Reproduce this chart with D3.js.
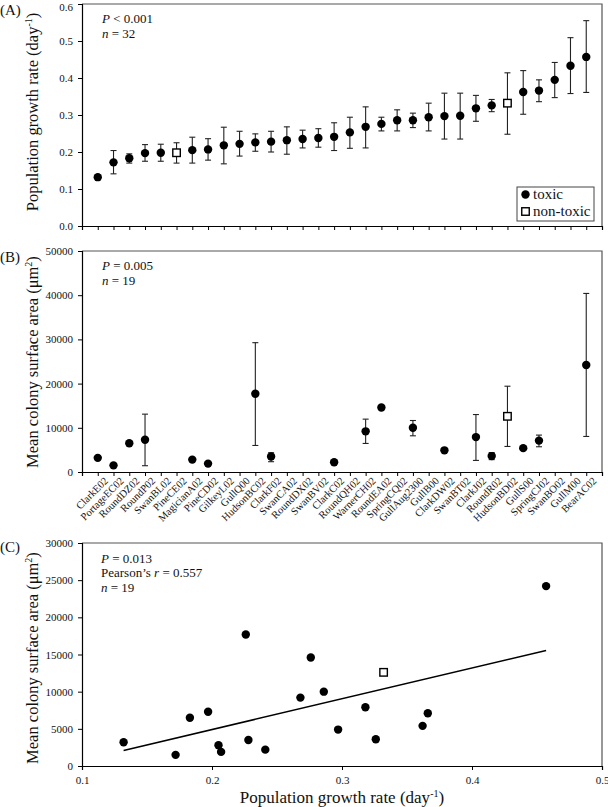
<!DOCTYPE html>
<html><head><meta charset="utf-8">
<script src="https://cdn.jsdelivr.net/npm/d3@7"></script>
<style>
body{margin:0;background:#fff;}
svg{display:block;font-family:"Liberation Serif","Times New Roman",serif;}
</style>
</head><body>
<svg id="chart" width="608" height="807"></svg>
<script>
// ---------- data ----------
const categories = ["ClarkE02","PortageEC02","RoundDZ02","RoundP02","SwanBL02","PineCE02","MagicianA02","PineCD02","GilkeyL02","GullQ00","HudsonBC02","ClarkF02","SwanCA02","RoundDX02","SwanBV02","ClarkC02","RoundQH02","WarnerCH02","RoundEA02","SpringCQ02","GullAug2300","GullB00","ClarkDW02","SwanBT02","ClarkJ02","RoundR02","HudsonBD02","GullS00","SpringCJ02","SwanBO02","GullM00","BearAC02"];
const growthRate = [0.132,0.172,0.183,0.197,0.198,0.198,0.205,0.207,0.218,0.222,0.226,0.228,0.232,0.235,0.238,0.241,0.253,0.268,0.276,0.286,0.286,0.294,0.297,0.298,0.318,0.326,0.332,0.362,0.366,0.395,0.433,0.457];
const growthLow  = [0.128,0.141,0.170,0.175,0.175,0.170,0.170,0.178,0.168,0.189,0.202,0.200,0.194,0.211,0.213,0.204,0.210,0.211,0.257,0.257,0.266,0.257,0.235,0.235,0.283,0.309,0.248,0.302,0.336,0.347,0.358,0.361];
const growthHigh = [0.137,0.204,0.195,0.220,0.221,0.225,0.240,0.236,0.267,0.256,0.249,0.256,0.268,0.259,0.263,0.279,0.294,0.322,0.294,0.314,0.305,0.332,0.359,0.359,0.353,0.342,0.414,0.420,0.395,0.442,0.509,0.555];
const nonToxic = ["PineCE02","HudsonBD02"];

const areaCats = ["ClarkE02","PortageEC02","RoundDZ02","RoundP02","MagicianA02","PineCD02","HudsonBC02","ClarkF02","ClarkC02","WarnerCH02","RoundEA02","GullAug2300","ClarkDW02","ClarkJ02","RoundR02","HudsonBD02","GullS00","SpringCJ02","BearAC02"];
const areaMean = [3200,1500,6500,7300,2800,1900,17700,3500,2200,9200,14600,10000,4900,7900,3600,12600,5400,7100,24200];
const areaLow  = [null,null,null,1420,null,null,6000,2330,null,6460,null,8190,null,2620,2800,5780,null,5710,8040];
const areaHigh = [null,null,null,13090,null,null,29260,4360,null,11960,null,11650,null,13000,4400,19410,null,8350,40400];

const growthTicks = [0,0.1,0.2,0.3,0.4,0.5,0.6];
const areaTicksB = [0,10000,20000,30000,40000,50000];
const areaTicksC = [0,5000,10000,15000,20000,25000,30000];
const rateTicksC = [0.1,0.2,0.3,0.4,0.5];

// ---------- setup ----------
const svg = d3.select("#chart");
const L = 82, R = 602;
const FRAME = "#555";

function frame(top, bottom){
  svg.append("path").attr("d", `M${L},${top}H${R}V${bottom}`)
    .attr("fill","none").attr("stroke",FRAME).attr("stroke-width",1.2);
}
function styleAxis(g){
  g.selectAll(".domain").attr("stroke","#000").attr("stroke-width",1.2);
  g.selectAll(".tick line").attr("stroke","#000");
  g.selectAll(".tick text").attr("font-family","Liberation Serif, serif").attr("font-size",11).attr("fill","#111");
}
function circleMark(g, x, y, r){ g.append("circle").attr("cx",x).attr("cy",y).attr("r",r).attr("fill","#000"); }
function squareMark(g, x, y, s){ g.append("rect").attr("x",x-s/2).attr("y",y-s/2).attr("width",s).attr("height",s).attr("fill","#fff").attr("stroke","#000").attr("stroke-width",1.4); }
function errBar(g, x, y1, y2){
  g.append("line").attr("x1",x).attr("x2",x).attr("y1",y1).attr("y2",y2).attr("stroke","#222").attr("stroke-width",1.1);
  [y1,y2].forEach(y=>g.append("line").attr("x1",x-3).attr("x2",x+3).attr("y1",y).attr("y2",y).attr("stroke","#222").attr("stroke-width",1.1));
}
function ytitle(x, y, main, sup, tail){
  const t = svg.append("text").attr("transform",`translate(${x},${y}) rotate(-90)`)
    .attr("text-anchor","middle").attr("font-size",16.5).attr("fill","#111");
  t.append("tspan").text(main);
  t.append("tspan").attr("font-size",10).attr("dy",-6).text(sup);
  t.append("tspan").attr("dy",6).text(tail);
}
function panelLabel(txt, y){ svg.append("text").attr("x",0).attr("y",y).attr("font-size",15).attr("fill","#111").text(txt); }
function stat(x, y, parts){
  const t = svg.append("text").attr("x",x).attr("y",y).attr("font-size",13).attr("fill","#111");
  parts.forEach(p=>{
    const s = t.append("tspan").text(p[0]);
    if (p[1]) s.attr("font-style","italic");
  });
}

// ---------- Panel A ----------
const xA = d3.scalePoint().domain(categories).range([L,R]).padding(1);
const yA = d3.scaleLinear().domain([0,0.6]).range([226,4]);
frame(4,226);
const axAy = svg.append("g").attr("transform",`translate(${L},0)`)
  .call(d3.axisLeft(yA).tickValues(growthTicks).tickFormat(d3.format(".1f")).tickSize(4).tickPadding(5));
styleAxis(axAy);
axAy.selectAll(".tick text").filter(d=>d===0.6).attr("dy","0.55em");
const axAx = svg.append("g").attr("transform","translate(0,226)")
  .call(d3.axisBottom(xA).tickSize(4).tickFormat(""));
styleAxis(axAx);
const gA = svg.append("g");
categories.forEach((c,i)=>{
  const x = xA(c);
  errBar(gA, x, yA(growthHigh[i]), yA(growthLow[i]));
  if (nonToxic.includes(c)) squareMark(gA, x, yA(growthRate[i]), 7.5);
  else circleMark(gA, x, yA(growthRate[i]), 4.2);
});
ytitle(38, 112, "Population growth rate (day", "-1", ")");
panelLabel("(A)", 15);
stat(102, 23, [["P",true],[" < 0.001",false]]);
stat(102, 38, [["n",true],[" = 32",false]]);
// legend
const lg = svg.append("g");
lg.append("rect").attr("x",517).attr("y",187).attr("width",77).attr("height",34).attr("fill","#fff").attr("stroke","#444").attr("stroke-width",1);
circleMark(lg, 525.5, 194.5, 4.2);
squareMark(lg, 525.5, 211.5, 7.5);
lg.append("text").attr("x",533).attr("y",199).attr("font-size",15).attr("fill","#111").text("toxic");
lg.append("text").attr("x",533).attr("y",216).attr("font-size",15).attr("fill","#111").text("non-toxic");

// ---------- Panel B ----------
const yB = d3.scaleLinear().domain([0,50000]).range([472,251]);
frame(251,472);
const axBy = svg.append("g").attr("transform",`translate(${L},0)`)
  .call(d3.axisLeft(yB).tickValues(areaTicksB).tickFormat(d3.format("d")).tickSize(4).tickPadding(5));
styleAxis(axBy);
const axBx = svg.append("g").attr("transform","translate(0,472)")
  .call(d3.axisBottom(xA).tickSize(4));
styleAxis(axBx);
axBx.selectAll(".tick text")
  .attr("font-size",10.5).attr("text-anchor","end")
  .attr("transform","translate(5,4) rotate(-45)")
  .attr("dy","0.35em").attr("y",4).attr("x",0);
const gB = svg.append("g");
areaCats.forEach((c,i)=>{
  const x = xA(c);
  if (areaLow[i] !== null) errBar(gB, x, yB(areaHigh[i]), yB(areaLow[i]));
  if (nonToxic.includes(c)) squareMark(gB, x, yB(areaMean[i]), 7.5);
  else circleMark(gB, x, yB(areaMean[i]), 4.2);
});
ytitle(38, 362, "Mean colony surface area (μm", "2", ")");
panelLabel("(B)", 262);
stat(102, 270, [["P",true],[" = 0.005",false]]);
stat(102, 285, [["n",true],[" = 19",false]]);

// ---------- Panel C ----------
const xC = d3.scaleLinear().domain([0.1,0.5]).range([L,R]);
const yC = d3.scaleLinear().domain([0,30000]).range([766,543]);
frame(543,766);
const axCy = svg.append("g").attr("transform",`translate(${L},0)`)
  .call(d3.axisLeft(yC).tickValues(areaTicksC).tickFormat(d3.format("d")).tickSize(4).tickPadding(5));
styleAxis(axCy);
const axCx = svg.append("g").attr("transform","translate(0,766)")
  .call(d3.axisBottom(xC).tickValues(rateTicksC).tickFormat(d3.format(".1f")).tickSize(4).tickPadding(6));
styleAxis(axCx);
const pts = areaCats.map((c,i)=>({c, x: growthRate[categories.indexOf(c)], y: areaMean[i]}));
// least-squares fit
const mx = d3.mean(pts,d=>d.x), my = d3.mean(pts,d=>d.y);
const slope = d3.sum(pts,d=>(d.x-mx)*(d.y-my)) / d3.sum(pts,d=>(d.x-mx)**2);
const icpt = my - slope*mx;
const xr = d3.extent(pts,d=>d.x);
svg.append("line").attr("x1",xC(xr[0])).attr("x2",xC(xr[1]))
  .attr("y1",yC(icpt+slope*xr[0])).attr("y2",yC(icpt+slope*xr[1]))
  .attr("stroke","#000").attr("stroke-width",1.5);
const gC = svg.append("g");
pts.forEach(p=>{
  if (nonToxic.includes(p.c)) squareMark(gC, xC(p.x), yC(p.y), 7.5);
  else circleMark(gC, xC(p.x), yC(p.y), 4.2);
});
ytitle(38, 658, "Mean colony surface area (μm", "2", ")");
panelLabel("(C)", 552);
stat(101, 563, [["P",true],[" = 0.013",false]]);
stat(101, 577, [["Pearson’s ",false],["r",true],[" = 0.557",false]]);
stat(101, 592, [["n",true],[" = 19",false]]);
// x title
const xt = svg.append("text").attr("x",342).attr("y",803).attr("text-anchor","middle").attr("font-size",17).attr("fill","#111");
xt.append("tspan").text("Population growth rate (day");
xt.append("tspan").attr("font-size",10).attr("dy",-6).text("-1");
xt.append("tspan").attr("dy",6).text(")");
</script>
</body></html>
